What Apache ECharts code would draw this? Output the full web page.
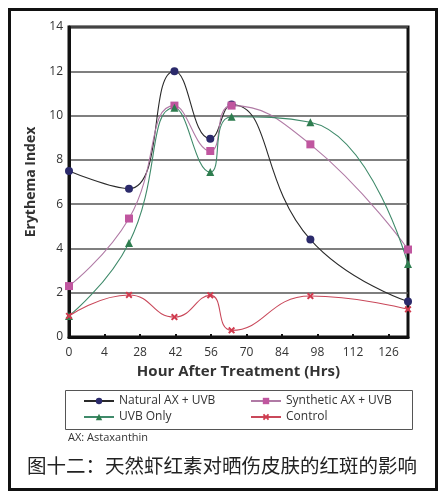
<!DOCTYPE html>
<html><head><meta charset="utf-8">
<script src="https://cdn.jsdelivr.net/npm/echarts@6/dist/echarts.min.js"></script>
<style>html,body{margin:0;padding:0;background:#fff}#c{width:441px;height:495px}</style>
</head><body><div id="c"></div>
<script>
// x positions are slots on the (non-linear) hour axis; slot i is labelled tickLabels[i]
const tickLabels = ['0','4','28','42','56','70','84','98','112','126'];
const xSlots = [0, 1.69, 2.97, 3.98, 4.58, 6.8, 9.55];
const natural = [7.5, 6.7, 12.0, 8.95, 10.5, 4.4, 1.6];
const synthetic = [2.3, 5.35, 10.45, 8.4, 10.45, 8.7, 3.95];
const uvbOnly = [0.95, 4.25, 10.35, 7.45, 9.95, 9.7, 3.3];
const control = [0.95, 1.9, 0.9, 1.88, 0.3, 1.85, 1.25];
const seriesNames = ['Natural AX + UVB', 'Synthetic AX + UVB', 'UVB Only', 'Control'];

const pair = arr => arr.map((v, i) => [xSlots[i], v]);
const xMark = 'path://M2,0L5,3L8,0L10,2L7,5L10,8L8,10L5,7L2,10L0,8L3,5L0,2Z';
const font = '"Open Sans", "DejaVu Sans", sans-serif';

const chart = echarts.init(document.getElementById('c'));
function mk(name, data, lineColor, markColor, symbol, size) {
  return {
    name, type: 'line', data: pair(data), smooth: 0.5,
    symbol, symbolSize: size,
    lineStyle: { color: lineColor, width: 1.1 },
    itemStyle: { color: markColor },
    emphasis: { disabled: true }
  };
}
chart.setOption({
  animation: false,
  grid: { left: 69, right: 33, top: 27, bottom: 158, show: true, borderColor: '#111', borderWidth: 3 },
  xAxis: {
    type: 'value', min: 0, max: 9.55, interval: 1,
    name: 'Hour After Treatment (Hrs)', nameLocation: 'middle', nameGap: 27,
    nameTextStyle: { fontFamily: font, fontWeight: 'bold', fontSize: 15, color: '#333' },
    axisLine: { show: true, lineStyle: { color: '#111', width: 3 } },
    axisTick: { show: true, inside: true, length: 3, lineStyle: { color: '#111', width: 2 } },
    axisLabel: {
      fontFamily: font, fontSize: 12, color: '#333', margin: 10, showMaxLabel: false,
      formatter: v => (Number.isInteger(v) && tickLabels[v] !== undefined) ? tickLabels[v] : ''
    },
    splitLine: { show: false }
  },
  yAxis: {
    type: 'value', min: 0, max: 14, interval: 2,
    name: 'Erythema Index', nameLocation: 'middle', nameGap: 21,
    nameTextStyle: { fontFamily: font, fontWeight: 'bold', fontSize: 14, color: '#333' },
    axisLine: { show: true, lineStyle: { color: '#111', width: 3 } },
    axisTick: { show: false },
    axisLabel: { fontFamily: font, fontSize: 12, color: '#333', margin: 6 },
    splitLine: { show: true, lineStyle: { color: '#555', width: 1.5 } }
  },
  legend: [
    { data: [seriesNames[0], seriesNames[2]], orient: 'vertical', left: 83, top: 395, itemWidth: 30, itemHeight: 8, itemGap: 4, padding: 0,
      textStyle: { fontFamily: font, fontSize: 12, color: '#333' }, selectedMode: false },
    { data: [seriesNames[1], seriesNames[3]], orient: 'vertical', left: 250, top: 395, itemWidth: 30, itemHeight: 8, itemGap: 4, padding: 0,
      textStyle: { fontFamily: font, fontSize: 12, color: '#333' }, selectedMode: false }
  ],
  graphic: [
    { type: 'rect', left: 7, top: 7, shape: { width: 427, height: 480 }, style: { fill: 'none', stroke: '#111', lineWidth: 3 }, z: 0 },
    { type: 'rect', left: 63, top: 388, shape: { width: 347, height: 39 }, style: { fill: 'none', stroke: '#555', lineWidth: 1 } },
    { type: 'text', left: 68, top: 432, style: { text: 'AX: Astaxanthin', fontFamily: font, fontSize: 11, fill: '#333' } },
    { type: 'text', left: 27, top: 456, style: { text: '图十二：天然虾红素对晒伤皮肤的红斑的影响', fontFamily: '"Noto Sans CJK SC", sans-serif', fontSize: 19.5, fill: '#222' } }
  ],
  series: [
    mk(seriesNames[0], natural, '#2a2a2a', '#2b2a6b', 'circle', 8),
    mk(seriesNames[1], synthetic, '#b07aa5', '#c0569f', 'rect', 8),
    mk(seriesNames[2], uvbOnly, '#3f8a6a', '#2e7d4f', 'triangle', 8),
    mk(seriesNames[3], control, '#c9485a', '#d03a4e', xMark, 7)
  ]
});
</script></body></html>
